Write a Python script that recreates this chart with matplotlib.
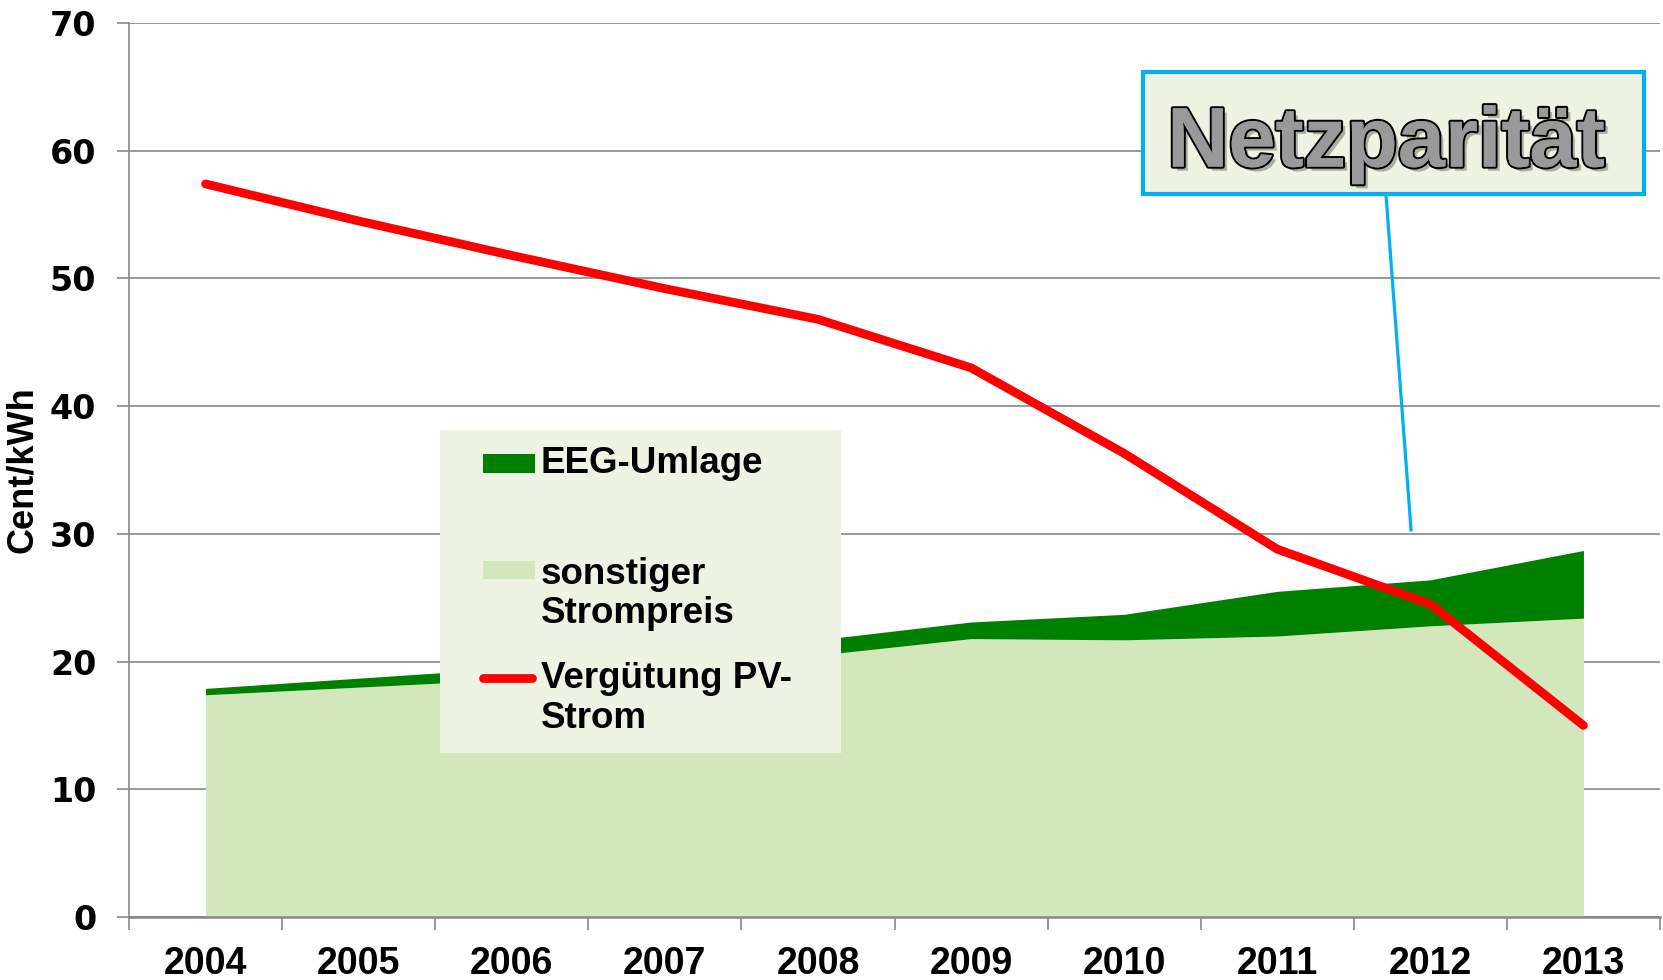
import matplotlib
matplotlib.use("Agg")
import matplotlib.pyplot as plt
import matplotlib.patheffects as pe
from matplotlib.patches import Rectangle
from matplotlib.lines import Line2D
import numpy as np

# data (Cent/kWh)
years = ['2004', '2005', '2006', '2007', '2008', '2009', '2010', '2011', '2012', '2013']
sonstiger = [17.4, 18.0, 18.6, 19.6, 20.5, 21.8, 21.7, 22.0, 22.8, 23.4]
eeg_umlage = [0.5, 0.7, 0.9, 1.0, 1.2, 1.3, 2.0, 3.5, 3.6, 5.3]
verguetung_pv = [57.4, 54.5, 51.8, 49.2, 46.8, 43.0, 36.3, 28.8, 24.5, 15.0]

LIGHT = '#D3E7BD'
DARK = '#008000'
RED = '#FF0000'
CYAN = '#00B0F0'
BOXFILL = '#EFF3E4'
GRID = '#888888'
FONT = 'Liberation Sans'
RED_LW = 6.3

fig = plt.figure(figsize=(16.63, 9.8), dpi=100)
ax = fig.add_axes([129 / 1663, 63 / 980, 1531 / 1663, 894 / 980])

x = np.arange(len(years))
base = np.array(sonstiger)
total = base + np.array(eeg_umlage)

ax.fill_between(x, 0, base, color=LIGHT, lw=0, zorder=2)
ax.fill_between(x, base, total, color=DARK, lw=0, zorder=2)
ax.plot(x, verguetung_pv, color=RED, lw=RED_LW, solid_capstyle='round',
        solid_joinstyle='round', zorder=5)

ax.set_xlim(-0.5, len(years) - 0.5)
ax.set_ylim(0, 70)
ax.set_yticks(range(0, 71, 10))
ax.yaxis.grid(True, color=GRID, lw=1.2)
ax.set_axisbelow(True)

ax.set_xticks(x)
ax.set_xticklabels(years, fontfamily=FONT, fontweight='bold', fontsize=27)
ax.set_xticks(np.arange(-0.5, len(years), 1), minor=True)
ax.tick_params(axis='x', which='major', length=0, pad=21)
ax.tick_params(axis='x', which='minor', length=9, width=1.2, color=GRID)
ax.tick_params(axis='y', length=8.5, width=1.2, color=GRID, pad=15)
for lab in ax.get_yticklabels():
    lab.set_fontfamily('DejaVu Sans')
    lab.set_fontweight('bold')
    lab.set_fontsize(24)

for s in ['top', 'right']:
    ax.spines[s].set_visible(False)
ax.spines['left'].set_color(GRID)
ax.spines['left'].set_linewidth(1.2)
ax.spines['bottom'].set_color(GRID)
ax.spines['bottom'].set_linewidth(1.8)

ax.set_ylabel('Cent/kWh', fontfamily=FONT, fontweight='bold', fontsize=26)
ax.yaxis.set_label_coords(-0.058, 0.5)

# legend box drawn by hand to keep the uneven spacing of the original
T = ax.transAxes
ax.add_patch(Rectangle((0.2031, 0.1834), 0.262, 0.3613, transform=T,
                       facecolor=BOXFILL, edgecolor='none', zorder=6))
ax.add_patch(Rectangle((0.2312, 0.4966), 0.034, 0.0213, transform=T,
                       facecolor=DARK, edgecolor='none', zorder=7))
ax.add_patch(Rectangle((0.2312, 0.3776), 0.034, 0.021, transform=T,
                       facecolor=LIGHT, edgecolor='none', zorder=7))
ax.add_line(Line2D([0.2312, 0.2632], [0.2673, 0.2673], transform=T, color=RED,
                   lw=RED_LW, solid_capstyle='round', zorder=7))
leg_kw = dict(transform=T, fontfamily=FONT, fontweight='bold', fontsize=26.5,
              va='center', ha='left', zorder=8, linespacing=1.15)
ax.text(0.2691, 0.5078, 'EEG-Umlage', **leg_kw)
ax.text(0.2691, 0.3613, 'sonstiger\nStrompreis', **leg_kw)
ax.text(0.2691, 0.2444, 'Vergütung PV-\nStrom', **leg_kw)

# Netzparität callout
fig.add_artist(Line2D([0.8334, 0.8485], [0.8020, 0.4592], color=CYAN, lw=2.3))
fig.add_artist(Rectangle((0.6873, 0.8020), 0.3013, 0.1245, transform=fig.transFigure,
                         facecolor=BOXFILL, edgecolor=CYAN, lw=3))
fig.text(0.8334, 0.830, 'Netzparität', ha='center', va='baseline',
         fontfamily=FONT, fontweight='bold', fontsize=61, color='#999999',
         path_effects=[pe.SimplePatchShadow(offset=(3, -3), alpha=0.35),
                       pe.withStroke(linewidth=3, foreground='black'),
                       pe.Normal()])

fig.savefig('out.png', dpi=100)
